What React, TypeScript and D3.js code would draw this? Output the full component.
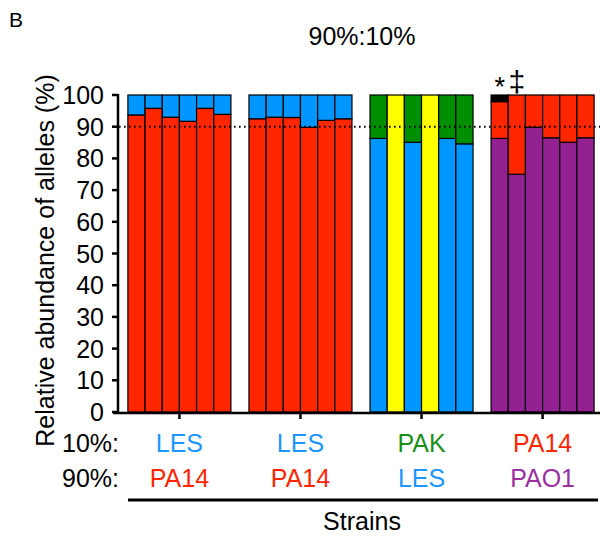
import React from "react";
import * as d3 from "d3";

// 10% strain (top label row) and 90% strain (bottom label row) per group
const groupNames = ["G1", "G2", "G3", "G4"];
const minorityLabels = ["LES", "LES", "PAK", "PA14"];
const majorityLabels = ["PA14", "PA14", "LES", "PAO1"];
const yTicks = [0, 10, 20, 30, 40, 50, 60, 70, 80, 90, 100];

// per bar: abundance of the 90% strain (bottom segment)
const majorityValues = [
  [93.7, 95.8, 93.0, 91.7, 95.8, 93.9],
  [92.5, 93.0, 92.9, 89.8, 92.0, 92.5],
  [86.3, 0, 85.1, 0, 86.3, 84.6],
  [86.3, 75.0, 89.8, 86.5, 85.1, 86.5],
];
// per bar: abundance of an extra allele (top segment)
const extraValues = [
  [0, 0, 0, 0, 0, 0],
  [0, 0, 0, 0, 0, 0],
  [0, 100, 0, 100, 0, 0],
  [2.1, 0, 0, 0, 0, 0],
];
const markers = [
  { group: 3, bar: 0, text: "*" },
  { group: 3, bar: 1, text: "‡" },
];

const strainColor: Record<string, string> = {
  PA14: "#ff2600",
  LES: "#0096ff",
  PAK: "#008f00",
  PAO1: "#942192",
};
const labelColor: Record<string, string> = {
  PA14: "#ff2600",
  LES: "#1e96ff",
  PAK: "#1a8f1a",
  PAO1: "#9a2fa0",
};
const extraColor = ["#000000", "#000000", "#ffff00", "#000000"];

const FONT = "'Liberation Sans', Arial, Helvetica, sans-serif";

export default function App() {
  const W = 602;
  const H = 536;
  const x = d3.scaleBand<string>().domain(groupNames).range([117, 605]).paddingInner(0.149).paddingOuter(0.09);
  const y = d3.scaleLinear().domain([0, 100]).range([412, 95]);
  const sub = d3.scaleBand<number>().domain(d3.range(6)).range([0, x.bandwidth()]).padding(0);

  const bars: React.ReactNode[] = [];
  groupNames.forEach((g, gi) => {
    majorityValues[gi].forEach((maj, bi) => {
      const extra = extraValues[gi][bi];
      const minor = 100 - maj - extra;
      const segs = [
        { v0: 0, v1: maj, c: strainColor[majorityLabels[gi]] },
        { v0: maj, v1: maj + minor, c: strainColor[minorityLabels[gi]] },
        { v0: maj + minor, v1: 100, c: extraColor[gi] },
      ];
      const bx = (x(g) as number) + (sub(bi) as number);
      segs.forEach((s, si) => {
        if (s.v1 - s.v0 <= 0) return;
        bars.push(
          <rect
            key={`${gi}-${bi}-${si}`}
            x={bx}
            y={y(s.v1)}
            width={sub.bandwidth()}
            height={y(s.v0) - y(s.v1)}
            fill={s.c}
            stroke="#000"
            strokeWidth={1.2}
          />
        );
      });
    });
  });

  const cx = (g: string) => (x(g) as number) + x.bandwidth() / 2;

  return (
    <svg width={W} height={H} style={{ position: "absolute", left: 0, top: 0 }} fontFamily={FONT}>
      <rect width={W} height={H} fill="#fff" />
      <text x={9} y={27} fontSize={21}>B</text>
      <text x={362} y={45} fontSize={25} textAnchor="middle">90%:10%</text>

      {bars}

      {/* 90% reference line */}
      <line x1={119} x2={600} y1={y(90)} y2={y(90)} stroke="#000" strokeWidth={2} strokeDasharray="1.6,3.4" />

      {/* y axis */}
      <line x1={118} x2={118} y1={y(100) - 1} y2={y(0) + 1} stroke="#000" strokeWidth={2.5} />
      {yTicks.map((t) => (
        <g key={t}>
          <line x1={112} x2={118} y1={y(t)} y2={y(t)} stroke="#000" strokeWidth={2.5} />
          <text x={104} y={y(t)} dy="0.36em" fontSize={25} textAnchor="end">{t}</text>
        </g>
      ))}
      <text
        transform={`translate(47,${(y(0) + y(100)) / 2 + 7}) rotate(-90)`}
        fontSize={25}
        textAnchor="middle"
        dominantBaseline="middle"
      >
        Relative abundance of alleles (%)
      </text>

      {/* x axis */}
      <line x1={113} x2={600} y1={413} y2={413} stroke="#000" strokeWidth={2.5} />
      {groupNames.map((g) => (
        <line key={g} x1={cx(g)} x2={cx(g)} y1={413} y2={419} stroke="#000" strokeWidth={2.5} />
      ))}

      {markers.map((m, i) => (
        <text
          key={i}
          x={(x(groupNames[m.group]) as number) + (sub(m.bar) as number) + sub.bandwidth() / 2}
          y={m.text === "*" ? 96 : 92}
          fontSize={m.text === "*" ? 27 : 30}
          textAnchor="middle"
        >
          {m.text}
        </text>
      ))}

      <text x={119} y={452} fontSize={25} textAnchor="end">10%:</text>
      <text x={119} y={487} fontSize={25} textAnchor="end">90%:</text>
      {groupNames.map((g, gi) => (
        <g key={g}>
          <text x={cx(g)} y={452} fontSize={25} textAnchor="middle" fill={labelColor[minorityLabels[gi]]}>
            {minorityLabels[gi]}
          </text>
          <text x={cx(g)} y={487} fontSize={25} textAnchor="middle" fill={labelColor[majorityLabels[gi]]}>
            {majorityLabels[gi]}
          </text>
        </g>
      ))}
      <line x1={128} x2={598} y1={500} y2={500} stroke="#000" strokeWidth={3} />
      <text x={362} y={530} fontSize={25} textAnchor="middle">Strains</text>
    </svg>
  );
}
